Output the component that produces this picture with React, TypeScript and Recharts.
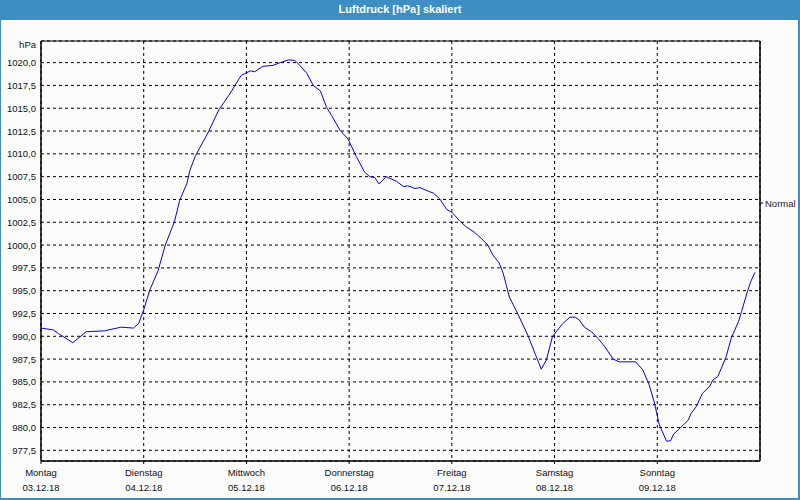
import {
  LineChart, Line, XAxis, YAxis, CartesianGrid, ReferenceArea,
} from 'recharts'

// time in days since Monday 00:00, pressure in hPa
const days = [
  0, 0.12, 0.17, 0.31, 0.44, 0.62, 0.78, 0.9, 0.95, 1.0,
  1.06, 1.14, 1.21, 1.3, 1.35, 1.42, 1.45, 1.5, 1.63, 1.73,
  1.84, 1.91, 1.95, 2.04, 2.08, 2.16, 2.26, 2.33, 2.41, 2.47,
  2.52, 2.59, 2.65, 2.72, 2.78, 2.83, 2.91, 2.99, 3.07, 3.15,
  3.2, 3.25, 3.29, 3.36, 3.46, 3.53, 3.57, 3.64, 3.69, 3.77,
  3.82, 3.88, 3.95, 4.0, 4.08, 4.14, 4.22, 4.29, 4.35, 4.4,
  4.46, 4.5, 4.56, 4.64, 4.74, 4.81, 4.87, 4.92, 4.98, 5.08,
  5.15, 5.2, 5.24, 5.29, 5.36, 5.42, 5.49, 5.57, 5.63, 5.79,
  5.86, 5.92, 5.97, 6.02, 6.09, 6.13, 6.16, 6.21, 6.3, 6.33,
  6.38, 6.44, 6.51, 6.54, 6.59, 6.67, 6.72, 6.79, 6.82, 6.88,
  6.91, 6.95,
]
const pressure = [
  990.9, 990.7, 990.3, 989.3, 990.5, 990.6, 991.0, 990.9, 991.4, 992.9,
  995.1, 997.2, 1000.0, 1002.6, 1004.9, 1006.75, 1008.2, 1009.7, 1012.4, 1014.8,
  1016.6, 1017.9, 1018.6, 1019.1, 1019.0, 1019.6, 1019.7, 1020.0, 1020.3, 1020.25,
  1019.7, 1018.8, 1017.5, 1016.9, 1015.1, 1014.2, 1012.6, 1011.6, 1009.7, 1008.0,
  1007.5, 1007.4, 1006.7, 1007.5, 1007.0, 1006.4, 1006.5, 1006.2, 1006.3, 1005.9,
  1005.7, 1005.1, 1003.9, 1003.6, 1002.6, 1002.0, 1001.4, 1000.7, 1000.0, 998.9,
  998.05, 996.9, 994.3, 992.5, 990.1, 988.1, 986.4, 987.4, 990.0, 991.4,
  992.1, 992.1, 991.8, 991.0, 990.5, 989.8, 988.85, 987.5, 987.2, 987.2,
  986.3, 984.7, 982.8, 980.3, 978.5, 978.55, 979.3, 979.8, 980.8, 981.55,
  982.3, 983.75, 984.5, 985.2, 985.6, 987.75, 989.8, 991.6, 992.7, 995.0,
  996.0, 997.0,
]

const dayNames = ['Montag', 'Dienstag', 'Mittwoch', 'Donnerstag', 'Freitag', 'Samstag', 'Sonntag']
const dates = ['03.12.18', '04.12.18', '05.12.18', '06.12.18', '07.12.18', '08.12.18', '09.12.18']
const yTicks = [
  977.5, 980, 982.5, 985, 987.5, 990, 992.5, 995, 997.5,
  1000, 1002.5, 1005, 1007.5, 1010, 1012.5, 1015, 1017.5, 1020,
]
const normalLevel = 1004.6

const Y_MIN = 976.33
const Y_MAX = 1022.37
const FONT = '"Liberation Sans", Arial, sans-serif'

const data = days.map((d, i) => ({ day: d, hPa: pressure[i] }))

function YTick({ x, y, payload }: any) {
  const v = payload.value as number
  const isUnit = v > 1021
  return (
    <text x={x} y={y + (isUnit ? 3 : 0)} dy={3.5} textAnchor="end"
      fontSize={9.5} fontFamily={FONT} fill="#111">
      {isUnit ? 'hPa' : v.toFixed(1).replace('.', ',')}
    </text>
  )
}

function XTick({ x, y, payload }: any) {
  const i = payload.value as number
  return (
    <g>
      <text x={x} y={y + 10} textAnchor="middle" fontSize={9.5} fontFamily={FONT} fill="#111">
        {dayNames[i]}
      </text>
      <text x={x} y={y + 25} textAnchor="middle" fontSize={9.5} fontFamily={FONT} fill="#111">
        {dates[i]}
      </text>
    </g>
  )
}

function NormalTick({ x, y }: any) {
  return (
    <text x={x} y={y} dy={3.5} textAnchor="start" fontSize={9.5} fontFamily={FONT} fill="#223">
      Normal
    </text>
  )
}

export default function App() {
  return (
    <div style={{ position: 'absolute', left: 0, top: 0, width: 800, height: 500, background: '#fbfcfb', overflow: 'hidden' }}>
      <LineChart width={800} height={500} data={data}
        margin={{ top: 41, right: 0, left: 0, bottom: 4 }}>
        <CartesianGrid stroke="#000" strokeDasharray="3 3" />
        <XAxis dataKey="day" type="number" domain={[0, 7]} ticks={[0, 1, 2, 3, 4, 5, 6]}
          interval={0} height={35} tick={<XTick />} tickSize={3} tickMargin={2}
          axisLine={{ stroke: '#000' }} tickLine={{ stroke: '#000' }} />
        <YAxis type="number" domain={[Y_MIN, Y_MAX]} ticks={[...yTicks, Y_MAX]} interval={0}
          width={41} tick={<YTick />} tickLine={false} tickSize={0} tickMargin={5}
          axisLine={{ stroke: '#000' }} allowDataOverflow />
        <YAxis yAxisId="r" orientation="right" type="number" domain={[Y_MIN, Y_MAX]}
          ticks={[normalLevel]} interval={0} width={40} tick={<NormalTick />} tickSize={3} tickMargin={2}
          tickLine={{ stroke: '#000' }} axisLine={{ stroke: '#000' }} allowDataOverflow />
        <ReferenceArea x1={0} x2={7} y1={Y_MIN} y2={Y_MAX} fill="none" stroke="#000" strokeWidth={1} />
        <Line type="linear" dataKey="hPa" stroke="#0000ee" strokeWidth={1} dot={false}
          isAnimationActive={false} />
      </LineChart>
      <div style={{
        position: 'absolute', left: 0, top: 0, width: 800, height: 20, background: '#3d8ec4',
        color: '#fff', fontFamily: FONT, fontWeight: 'bold', fontSize: 11, lineHeight: '19px',
        textAlign: 'center',
      }}>
        Luftdruck [hPa] skaliert
      </div>
      <div style={{
        position: 'absolute', left: 0, top: 20, width: 800, height: 480, boxSizing: 'border-box',
        borderLeft: '1px solid #3d8ec4', borderRight: '2px solid #3d8ec4', borderBottom: '2px solid #3d8ec4',
        pointerEvents: 'none',
      }} />
    </div>
  )
}
